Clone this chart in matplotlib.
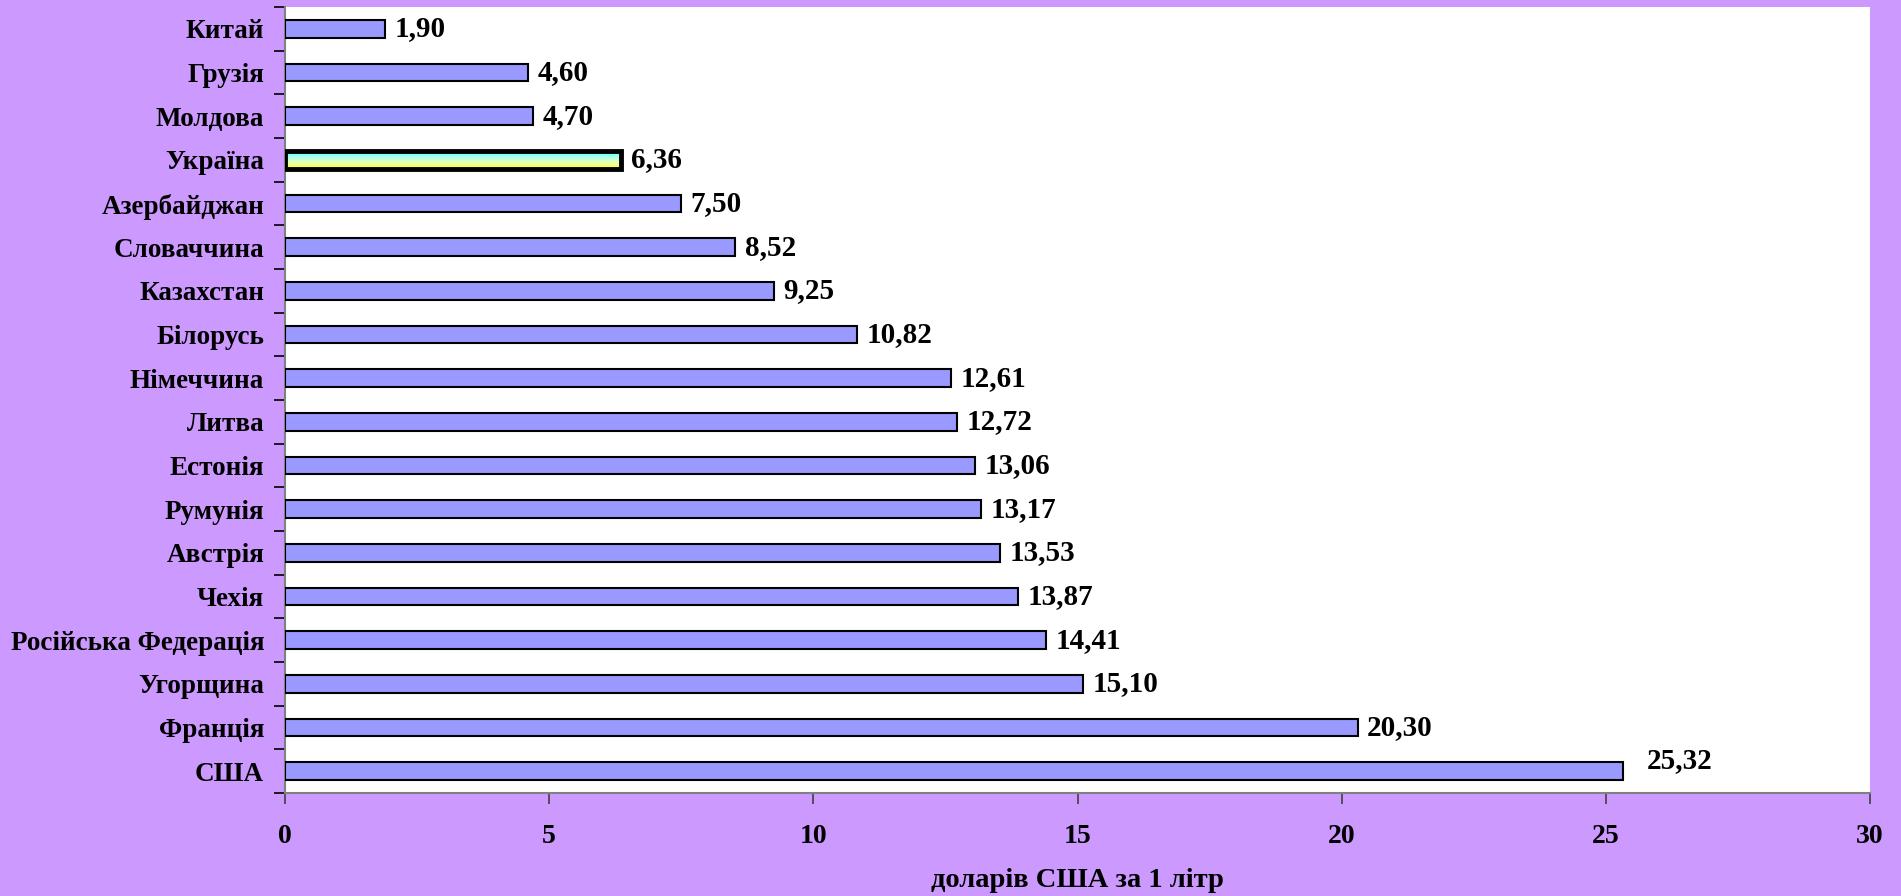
import numpy as np
import matplotlib
matplotlib.use("Agg")
from matplotlib import pyplot as plt
from matplotlib.colors import LinearSegmentedColormap

countries = ["Китай", "Грузія", "Молдова", "Україна", "Азербайджан", "Словаччина",
             "Казахстан", "Білорусь", "Німеччина", "Литва", "Естонія", "Румунія",
             "Австрія", "Чехія", "Російська Федерація", "Угорщина", "Франція", "США"]
prices = [1.90, 4.60, 4.70, 6.36, 7.50, 8.52, 9.25, 10.82, 12.61, 12.72, 13.06,
          13.17, 13.53, 13.87, 14.41, 15.10, 20.30, 25.32]
highlight = "Україна"
x_ticks = [0, 5, 10, 15, 20, 25, 30]

plt.rcParams['font.family'] = ['Liberation Serif', 'DejaVu Serif']
plt.rcParams['font.weight'] = 'bold'

bg = "#CC99FF"
fig = plt.figure(figsize=(19.01, 8.96), dpi=100, facecolor=bg)
ax = fig.add_axes([285/1901, 1 - 793/896, (1870 - 285)/1901, (793 - 7)/896])
ax.set_facecolor("white")

y = np.arange(len(countries))
bars = ax.barh(y, prices, height=0.41, color="#9999FF", edgecolor="black", linewidth=1.5, zorder=3)

# gradient bar for Ukraine
i = countries.index(highlight)
b = bars[i]
b.set_facecolor("none")
b.set_linewidth(3.5)
cmap = LinearSegmentedColormap.from_list("ua", ["#44FFFF", "#AAFFEE", "#EEFFAA", "#FFFF22"])
grad = np.linspace(0, 1, 100).reshape(-1, 1)
im = ax.imshow(grad, cmap=cmap, aspect="auto", zorder=2,
               extent=[0, prices[i], i + 0.205, i - 0.205])
im.set_clip_path(b)

ax.set_xlim(0, 30)
ax.set_ylim(len(countries) - 0.5, -0.5)

for k, v in enumerate(prices):
    dx, dy = 0.18, 0
    if countries[k] == "США":
        dx, dy = 0.45, -0.25
    ax.text(v + dx, k + dy, f"{v:.2f}".replace(".", ","), va="center", ha="left",
            fontsize=21, fontweight="bold", zorder=4)

ax.set_yticks(y)
ax.set_yticklabels(countries, fontsize=19.5, fontweight="bold")
ax.set_yticks(np.arange(len(countries) + 1) - 0.5, minor=True)
ax.tick_params(axis="y", which="major", length=0, pad=15)
ax.tick_params(axis="y", which="minor", length=8, width=1.2, color="black", direction="out")

ax.set_xticks(x_ticks)
ax.set_xticklabels([str(t) for t in x_ticks], fontsize=20, fontweight="bold")
ax.tick_params(axis="x", length=8, width=1.2, color="#404040", direction="out", pad=14)

for s in ["top", "right"]:
    ax.spines[s].set_visible(False)
ax.spines["left"].set_color("#808080")
ax.spines["bottom"].set_color("#808080")
ax.spines["left"].set_linewidth(1.5)
ax.spines["bottom"].set_linewidth(1.5)

ax.set_xlabel("доларів США за 1 літр", fontsize=20.5, fontweight="bold", labelpad=14)

fig.savefig("out.png", dpi=100, facecolor=bg)
